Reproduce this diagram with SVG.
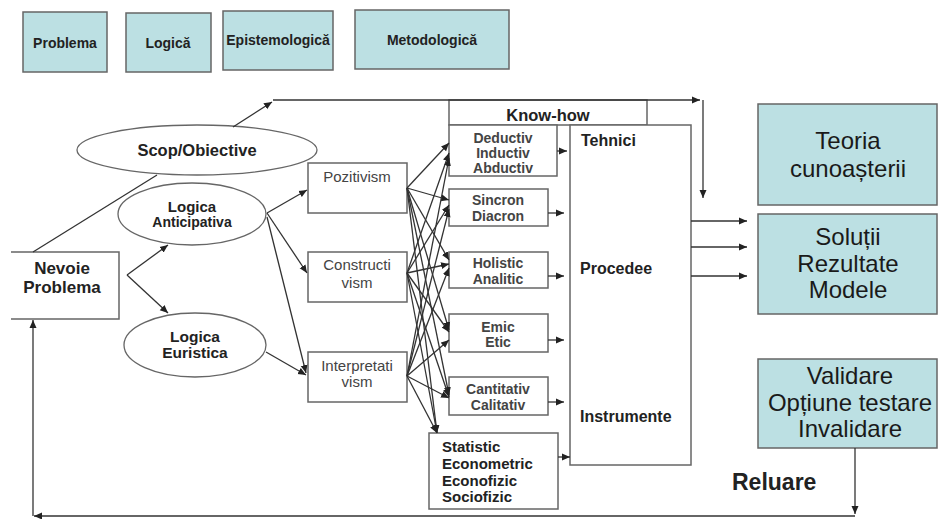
<svg xmlns="http://www.w3.org/2000/svg" width="940" height="519" viewBox="0 0 940 519">
<defs>
<marker id="ah" markerWidth="9" markerHeight="8" refX="8" refY="4" orient="auto" markerUnits="userSpaceOnUse"><path d="M0,0.5 L8,4 L0,7.5 z" fill="#222"/></marker>
<style>
.box{fill:#fff;stroke:#666;stroke-width:1.5}
.teal{fill:#bce0e3;stroke:#666;stroke-width:1.5}
.el{fill:#fff;stroke:#666;stroke-width:1.3}
text{font-family:"Liberation Sans",Arial,sans-serif;fill:#222}
.b{font-weight:bold}
.c{text-anchor:middle}
.hd{font-size:14px;font-weight:bold;text-anchor:middle}
.big{font-size:24px;text-anchor:middle;fill:#1a1a1a}
.g{fill:#444}
.ep{font-size:15px;fill:#444;text-anchor:middle}
.mb{font-size:14px;font-weight:bold;fill:#444;text-anchor:middle}
.tp{font-size:16px;font-weight:bold}
.ln{fill:none;stroke:#333;stroke-width:1.3}
.ar{marker-end:url(#ah)}
</style>
</defs>

<g id="h-problema"><rect class="teal" x="23" y="12" width="84" height="60"/><text class="hd" x="65" y="48">Problema</text></g>
<g id="h-logica"><rect class="teal" x="126" y="13" width="85" height="59"/><text class="hd" x="168" y="48">Logică</text></g>
<g id="h-epistemologica"><rect class="teal" x="223" y="11" width="110" height="59"/><text class="hd" x="278" y="45">Epistemologică</text></g>
<g id="h-metodologica"><rect class="teal" x="355" y="10" width="154" height="59"/><text class="hd" x="432" y="45">Metodologică</text></g>

<g id="scop"><ellipse class="el" cx="197" cy="150" rx="120" ry="25"/><text class="b c" x="197" y="156" font-size="16.5">Scop/Obiective</text></g>
<g id="anticipativa"><ellipse class="el" cx="192" cy="214" rx="74" ry="31"/><text class="b c" x="192" y="212" font-size="15">Logica</text><text class="b c" x="192" y="227" font-size="14">Anticipativa</text></g>
<g id="euristica"><ellipse class="el" cx="195" cy="345" rx="71" ry="32"/><text class="b c" x="195" y="342" font-size="15.5">Logica</text><text class="b c" x="195" y="358" font-size="15.5">Euristica</text></g>
<g id="nevoie"><path class="box" d="M11,252 H119 V319 H11"/><text class="b c" x="62" y="274" font-size="17">Nevoie</text><text class="b c" x="62" y="293" font-size="17">Problema</text></g>

<g id="pozitivism"><rect class="box" x="308" y="163" width="99" height="50"/><text class="ep" x="357" y="182">Pozitivism</text></g>
<g id="constructivism"><rect class="box" x="308" y="252" width="99" height="50"/><text class="ep" x="357" y="270">Constructi</text><text class="ep" x="357" y="288">vism</text></g>
<g id="interpretativism"><rect class="box" x="308" y="352" width="99" height="50"/><text class="ep" x="357" y="371">Interpretati</text><text class="ep" x="357" y="387">vism</text></g>

<g id="knowhow"><rect class="box" x="449" y="100" width="198" height="25"/><text class="b c" x="548" y="121" font-size="16.5">Know-how</text></g>
<g id="tehnici"><rect class="box" x="570" y="125" width="121" height="340"/><text class="tp" x="581" y="146">Tehnici</text><text class="tp" x="580" y="274">Procedee</text><text class="tp" x="580" y="422">Instrumente</text></g>

<g id="deductiv"><rect class="box" x="449" y="125" width="108" height="51"/><text class="mb" x="503" y="143">Deductiv</text><text class="mb" x="503" y="158">Inductiv</text><text class="mb" x="503" y="173">Abductiv</text></g>
<g id="sincron"><rect class="box" x="449" y="189" width="99" height="37"/><text class="mb" x="498" y="205">Sincron</text><text class="mb" x="498" y="221">Diacron</text></g>
<g id="holistic"><rect class="box" x="449" y="252" width="99" height="36"/><text class="mb" x="498" y="268">Holistic</text><text class="mb" x="498" y="284">Analitic</text></g>
<g id="emic"><rect class="box" x="449" y="314" width="99" height="38"/><text class="mb" x="498" y="332">Emic</text><text class="mb" x="498" y="347">Etic</text></g>
<g id="cantitativ"><rect class="box" x="449" y="377" width="99" height="38"/><text class="mb" x="498" y="394">Cantitativ</text><text class="mb" x="498" y="410">Calitativ</text></g>
<g id="statistic"><rect class="box" x="429" y="433" width="129" height="76"/><text class="b" x="442" y="452" font-size="15">Statistic</text><text class="b" x="442" y="469" font-size="15">Econometric</text><text class="b" x="442" y="486" font-size="15">Econofizic</text><text class="b" x="442" y="502" font-size="15">Sociofizic</text></g>

<g id="teoria"><rect class="teal" x="758" y="104" width="179" height="101"/><text class="big" x="848" y="149">Teoria</text><text class="big" x="848" y="177">cunoașterii</text></g>
<g id="solutii"><rect class="teal" x="758" y="214" width="179" height="100"/><text class="big" x="848" y="245">Soluții</text><text class="big" x="848" y="272">Rezultate</text><text class="big" x="848" y="298">Modele</text></g>
<g id="validare"><rect class="teal" x="758" y="359" width="179" height="89"/><text class="big" x="850" y="384">Validare</text><text class="big" x="850" y="411">Opțiune testare</text><text class="big" x="850" y="437">Invalidare</text></g>
<g id="reluare-label"><text class="b" x="732" y="490" font-size="23">Reluare</text></g>

<g id="connectors">
<path class="ln" d="M33,252 L157,175"/>
<path class="ln ar" d="M233,127 L272,102"/>
<path class="ln ar" d="M273,100 H700"/>
<path class="ln ar" d="M703,100 V198"/>
<path class="ln ar" d="M127,275 L168,245"/>
<path class="ln ar" d="M127,275 L168,313"/>
<path class="ln ar" d="M267,213 L307,190"/>
<path class="ln ar" d="M267,213 L307,273"/>
<path class="ln ar" d="M267,217 L306,373"/>
<path class="ln ar" d="M266,352 L306,375"/>

<path class="ln ar" d="M407,188 L449,143"/>
<path class="ln ar" d="M407,188 L449,200"/>
<path class="ln ar" d="M407,188 L449,260"/>
<path class="ln ar" d="M407,188 L449,330"/>
<path class="ln ar" d="M407,188 L449,395"/>
<path class="ln ar" d="M407,188 L437,433"/>
<path class="ln ar" d="M407,273 L449,153"/>
<path class="ln ar" d="M407,273 L449,205"/>
<path class="ln ar" d="M407,273 L449,264"/>
<path class="ln ar" d="M407,273 L449,332"/>
<path class="ln ar" d="M407,273 L449,397"/>
<path class="ln ar" d="M407,273 L437,433"/>
<path class="ln ar" d="M407,376 L449,158"/>
<path class="ln ar" d="M407,376 L449,209"/>
<path class="ln ar" d="M407,376 L449,268"/>
<path class="ln ar" d="M407,376 L449,340"/>
<path class="ln ar" d="M407,376 L449,398"/>
<path class="ln ar" d="M407,376 L437,433"/>

<path class="ln ar" d="M557,151 H567"/>
<path class="ln ar" d="M548,213 H564"/>
<path class="ln ar" d="M548,276 H564"/>
<path class="ln ar" d="M548,340 H564"/>
<path class="ln ar" d="M548,402 H564"/>
<path class="ln ar" d="M558,457 H570"/>

<path class="ln ar" d="M691,221 H747"/>
<path class="ln ar" d="M691,247 H747"/>
<path class="ln ar" d="M691,276 H747"/>

<path class="ln ar" d="M855,448 V514"/>
<path class="ln ar" d="M855,516 H34"/>
<path class="ln ar" d="M33,516 V320"/>
</g>
</svg>
